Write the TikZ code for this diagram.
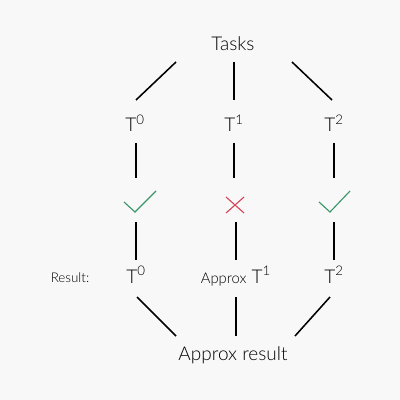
\documentclass[tikz,border=0pt]{standalone}
\usepackage{fontspec}
\setmainfont{Lato}[UprightFont=* Light]
\usepackage{xcolor}
\usetikzlibrary{calc}
\definecolor{fundo}{RGB}{248, 248, 248}
\definecolor{okverde}{RGB}{58, 150, 105}
\definecolor{falhavermelho}{RGB}{214, 70, 90}

\begin{document}
\begin{tikzpicture}[
    x=0.025cm,
    y=-0.025cm,
    rotulo/.style={
        inner sep=0pt,
        font=\fontsize{13.5}{16}\selectfont
    },
    pequeno/.style={
        inner sep=0pt,
        font=\fontsize{9.5}{11}\selectfont
    },
    marca/.style={
        inner sep=0pt,
        minimum size=0.5cm
    },
    ligacao/.style={
        draw=black,
        line width=1.1pt
    }
]

% ---------------- fundo ----------------

\fill[fundo] (0,0) rectangle (400,400);
\useasboundingbox (0,0) rectangle (400,400);

% ---------------- topo ----------------

\node[rotulo] (tasks) at (233,44) {Tasks};

\node[rotulo] (t0) at (135,123) {T\textsuperscript{0}};
\node[rotulo] (t1) at (234,123) {T\textsuperscript{1}};
\node[rotulo] (t2) at (334,123) {T\textsuperscript{2}};

% ---------------- marcas ----------------

\node[marca] (ok0) at (138,203) {};
\node[marca] (falha1) at (235,205) {};
\node[marca] (ok2) at (334,203) {};

\draw[okverde, line width=0.8pt]
    ([shift={(-14,-1)}]ok0.center) --
    ([shift={(-3,9)}]ok0.center) --
    ([shift={(18,-12)}]ok0.center);
\draw[falhavermelho, line width=0.8pt]
    ([shift={(-9,-8)}]falha1.center) -- ([shift={(9,8)}]falha1.center)
    ([shift={(-9,8)}]falha1.center) -- ([shift={(9,-8)}]falha1.center);
\draw[okverde, line width=0.8pt]
    ([shift={(-15,-1)}]ok2.center) --
    ([shift={(-4,9)}]ok2.center) --
    ([shift={(16,-12)}]ok2.center);

% ---------------- resultado ----------------

\node[pequeno, anchor=base] (res) at (70,282) {Result:};

\node[rotulo, anchor=base] (r0) at (136,283) {T\textsuperscript{0}};
\node[rotulo, anchor=base] (r1) at (236,283)
    {{\fontsize{10.5}{12}\selectfont Approx} T\textsuperscript{1}};
\node[rotulo, anchor=base] (r2) at (334,283) {T\textsuperscript{2}};

\node[rotulo] (final) at (233,355) {Approx result};

% ---------------- ligacoes ----------------

\draw[ligacao] ([shift={(-57,18)}]tasks.center) -- ([shift={(1,-23)}]t0.center);
\draw[ligacao] ([shift={(1,18)}]tasks.center) -- ([shift={(0,-23)}]t1.center);
\draw[ligacao] ([shift={(59,18)}]tasks.center) -- ([shift={(-2,-23)}]t2.center);

\draw[ligacao] ([shift={(1,20)}]t0.center) -- ([shift={(-2,-25)}]ok0.center);
\draw[ligacao] ([shift={(0,20)}]t1.center) -- ([shift={(-1,-27)}]falha1.center);
\draw[ligacao] ([shift={(0,20)}]t2.center) -- ([shift={(0,-25)}]ok2.center);

\draw[ligacao] ([shift={(-2,19)}]ok0.center) -- ([shift={(0,-23)}]r0.base);
\draw[ligacao] ([shift={(1,17)}]falha1.center) -- ([shift={(0,-23)}]r1.base);
\draw[ligacao] ([shift={(0,19)}]ok2.center) -- ([shift={(0,-23)}]r2.base);

\draw[ligacao] ([shift={(1,14)}]r0.base) -- ([shift={(-57,-19)}]final.center);
\draw[ligacao] ([shift={(0,14)}]r1.base) -- ([shift={(3,-19)}]final.center);
\draw[ligacao] ([shift={(-4,14)}]r2.base) -- ([shift={(62,-19)}]final.center);

\end{tikzpicture}
\end{document}
